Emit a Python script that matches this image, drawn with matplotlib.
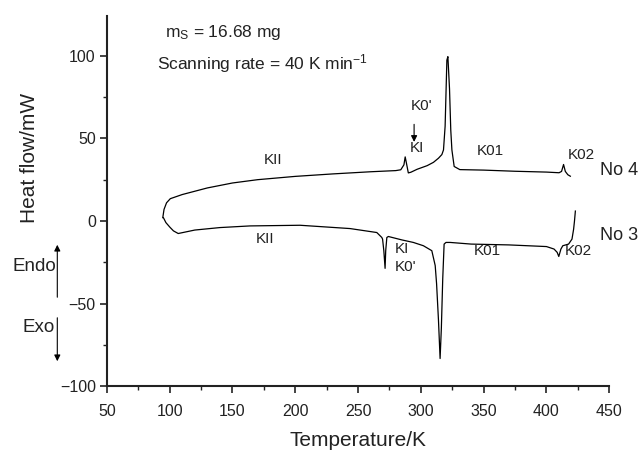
import matplotlib
matplotlib.use("Agg")
import matplotlib.pyplot as plt
from matplotlib.ticker import MultipleLocator

plt.rcParams['font.family'] = ['Liberation Sans', 'DejaVu Sans']
plt.rcParams['mathtext.fontset'] = 'custom'
plt.rcParams['mathtext.rm'] = 'Liberation Sans'
plt.rcParams['mathtext.it'] = 'Liberation Sans'

# No 4 (heating run)
t_no4 = [94.5, 95.5, 97.5, 100.5, 110, 130, 150, 170, 200, 230, 260, 280, 284,
         286.5, 287.5, 288.5, 290, 292, 297, 305, 310, 314, 316.7, 318, 319.3,
         320.7, 321.5, 322.8, 323.8, 324.7, 326.5, 331, 350, 375, 400, 410,
         412, 413.6, 415, 417, 419]
h_no4 = [2, 7, 11, 13.5, 16, 20, 23, 25, 27, 28.5, 29.8, 30.5, 31,
         34, 38.8, 35, 29.1, 29.5, 31.3, 33.5, 35.5, 38, 40.2, 43, 57.4,
         97.4, 99.5, 80, 55, 43, 33, 31.1, 30.8, 30.1, 29.6, 29.2,
         30, 34.2, 30, 28, 27.1]

# No 3 (cooling run)
t_no3 = [423, 422.3, 421.6, 420.3, 417.6, 413, 411.5, 409.8, 408.5, 406, 400,
         370, 340, 323.3, 320, 318.5, 317.4, 316.3, 315.3, 314, 312.5, 311.4,
         308.7, 302, 294, 285, 274.1, 272.9, 272, 271.5, 270.5, 269.5, 268.9,
         264.9, 243.6, 203.8, 164, 140, 120, 106.8, 103, 100.2, 97, 95]
h_no3 = [6, 0, -5, -11, -14, -15, -17, -21.5, -19, -17, -15.5,
         -14.5, -14, -13, -13, -14, -35, -65, -83.3, -60, -38, -27,
         -18, -15, -13, -11.5, -9.4, -10, -18, -28.7, -18, -11, -10,
         -7, -4.6, -2.6, -3, -4, -5.5, -7.6, -6, -3.8, -1, 2]

x_ticks = [50, 100, 150, 200, 250, 300, 350, 400, 450]
y_ticks = [-100, -50, 0, 50, 100]

fig = plt.figure(figsize=(6.4, 4.5), dpi=100)
ax = fig.add_axes([0.167, 0.142, 0.785, 0.822])

ax.plot(t_no4, h_no4, color='black', lw=0.9)
ax.plot(t_no3, h_no3, color='black', lw=0.9)

ax.set_xlim(50, 450)
ax.set_ylim(-100, 124)
ax.set_xticks(x_ticks)
ax.set_yticks(y_ticks)
ax.set_yticklabels(['\u2212100', '\u221250', '0', '50', '100'])
ax.xaxis.set_minor_locator(MultipleLocator(25))
ax.yaxis.set_minor_locator(MultipleLocator(25))
for s in ['top', 'right']:
    ax.spines[s].set_visible(False)
for s in ['left', 'bottom']:
    ax.spines[s].set_linewidth(1.5)
    ax.spines[s].set_color('#222222')
ax.tick_params(which='major', direction='out', length=5, width=1.2, labelsize=11.5, colors='#222222')
ax.tick_params(which='minor', direction='out', length=3, width=1.0, colors='#222222')
ax.tick_params(axis='x', pad=8)
ax.tick_params(axis='y', pad=3)
ax.set_xlabel('Temperature/K', fontsize=15, color='#222222')
ax.set_ylabel('Heat flow/mW', fontsize=15, color='#222222')
ax.yaxis.set_label_coords(-0.135, 0.616)
ax.xaxis.set_label_coords(0.5, -0.122)

tk = dict(fontsize=11, color='#222222')
ax.text(96, 114.3, r'm$_\mathrm{S}$ = 16.68 mg', fontsize=12.5, va='center', ha='left', color='#222222')
ax.text(89.6, 95.6, r'Scanning rate = 40 K min$^{-1}$', fontsize=12.5, va='center', ha='left', color='#222222')

ax.text(182.7, 37.2, 'KII', ha='center', va='center', **tk)
ax.text(300.2, 69.5, "K0'", ha='center', va='center', **tk)
ax.text(296.8, 44.2, 'KI', ha='center', va='center', **tk)
ax.text(355.2, 42.2, 'K01', ha='center', va='center', **tk)
ax.text(427.4, 40.2, 'K02', ha='center', va='center', **tk)
ax.text(457.6, 30.7, 'No 4', ha='center', va='center', fontsize=13, color='#222222', clip_on=False)
ax.text(458, -9, 'No 3', ha='center', va='center', fontsize=13, color='#222222', clip_on=False)
ax.text(175.9, -11, 'KII', ha='center', va='center', **tk)
ax.text(279.5, -17, 'KI', ha='left', va='center', **tk)
ax.text(279.5, -28, "K0'", ha='left', va='center', **tk)
ax.text(352.5, -18, 'K01', ha='center', va='center', **tk)
ax.text(425.3, -18, 'K02', ha='center', va='center', **tk)

ax.annotate('', xy=(294.6, 46.2), xytext=(294.6, 60.2),
            arrowprops=dict(arrowstyle='-|>', lw=0.8, color='black', mutation_scale=9))

# Endo / Exo indicators (figure coordinates)
def fp(px, py):
    return (px / 640.0, 1 - py / 450.0)

ax.annotate('', xy=fp(57.3, 242), xytext=fp(57.3, 300), xycoords='figure fraction',
            textcoords='figure fraction',
            arrowprops=dict(arrowstyle='-|>', lw=0.8, color='black', mutation_scale=9))
ax.annotate('', xy=fp(57.3, 364), xytext=fp(57.3, 315), xycoords='figure fraction',
            textcoords='figure fraction',
            arrowprops=dict(arrowstyle='-|>', lw=0.8, color='black', mutation_scale=9))
fig.text(*fp(13, 266.7), 'Endo', fontsize=13.5, ha='left', va='center', color='#222222')
fig.text(*fp(23, 328), 'Exo', fontsize=13.5, ha='left', va='center', color='#222222')

fig.savefig('out.png', dpi=100)
